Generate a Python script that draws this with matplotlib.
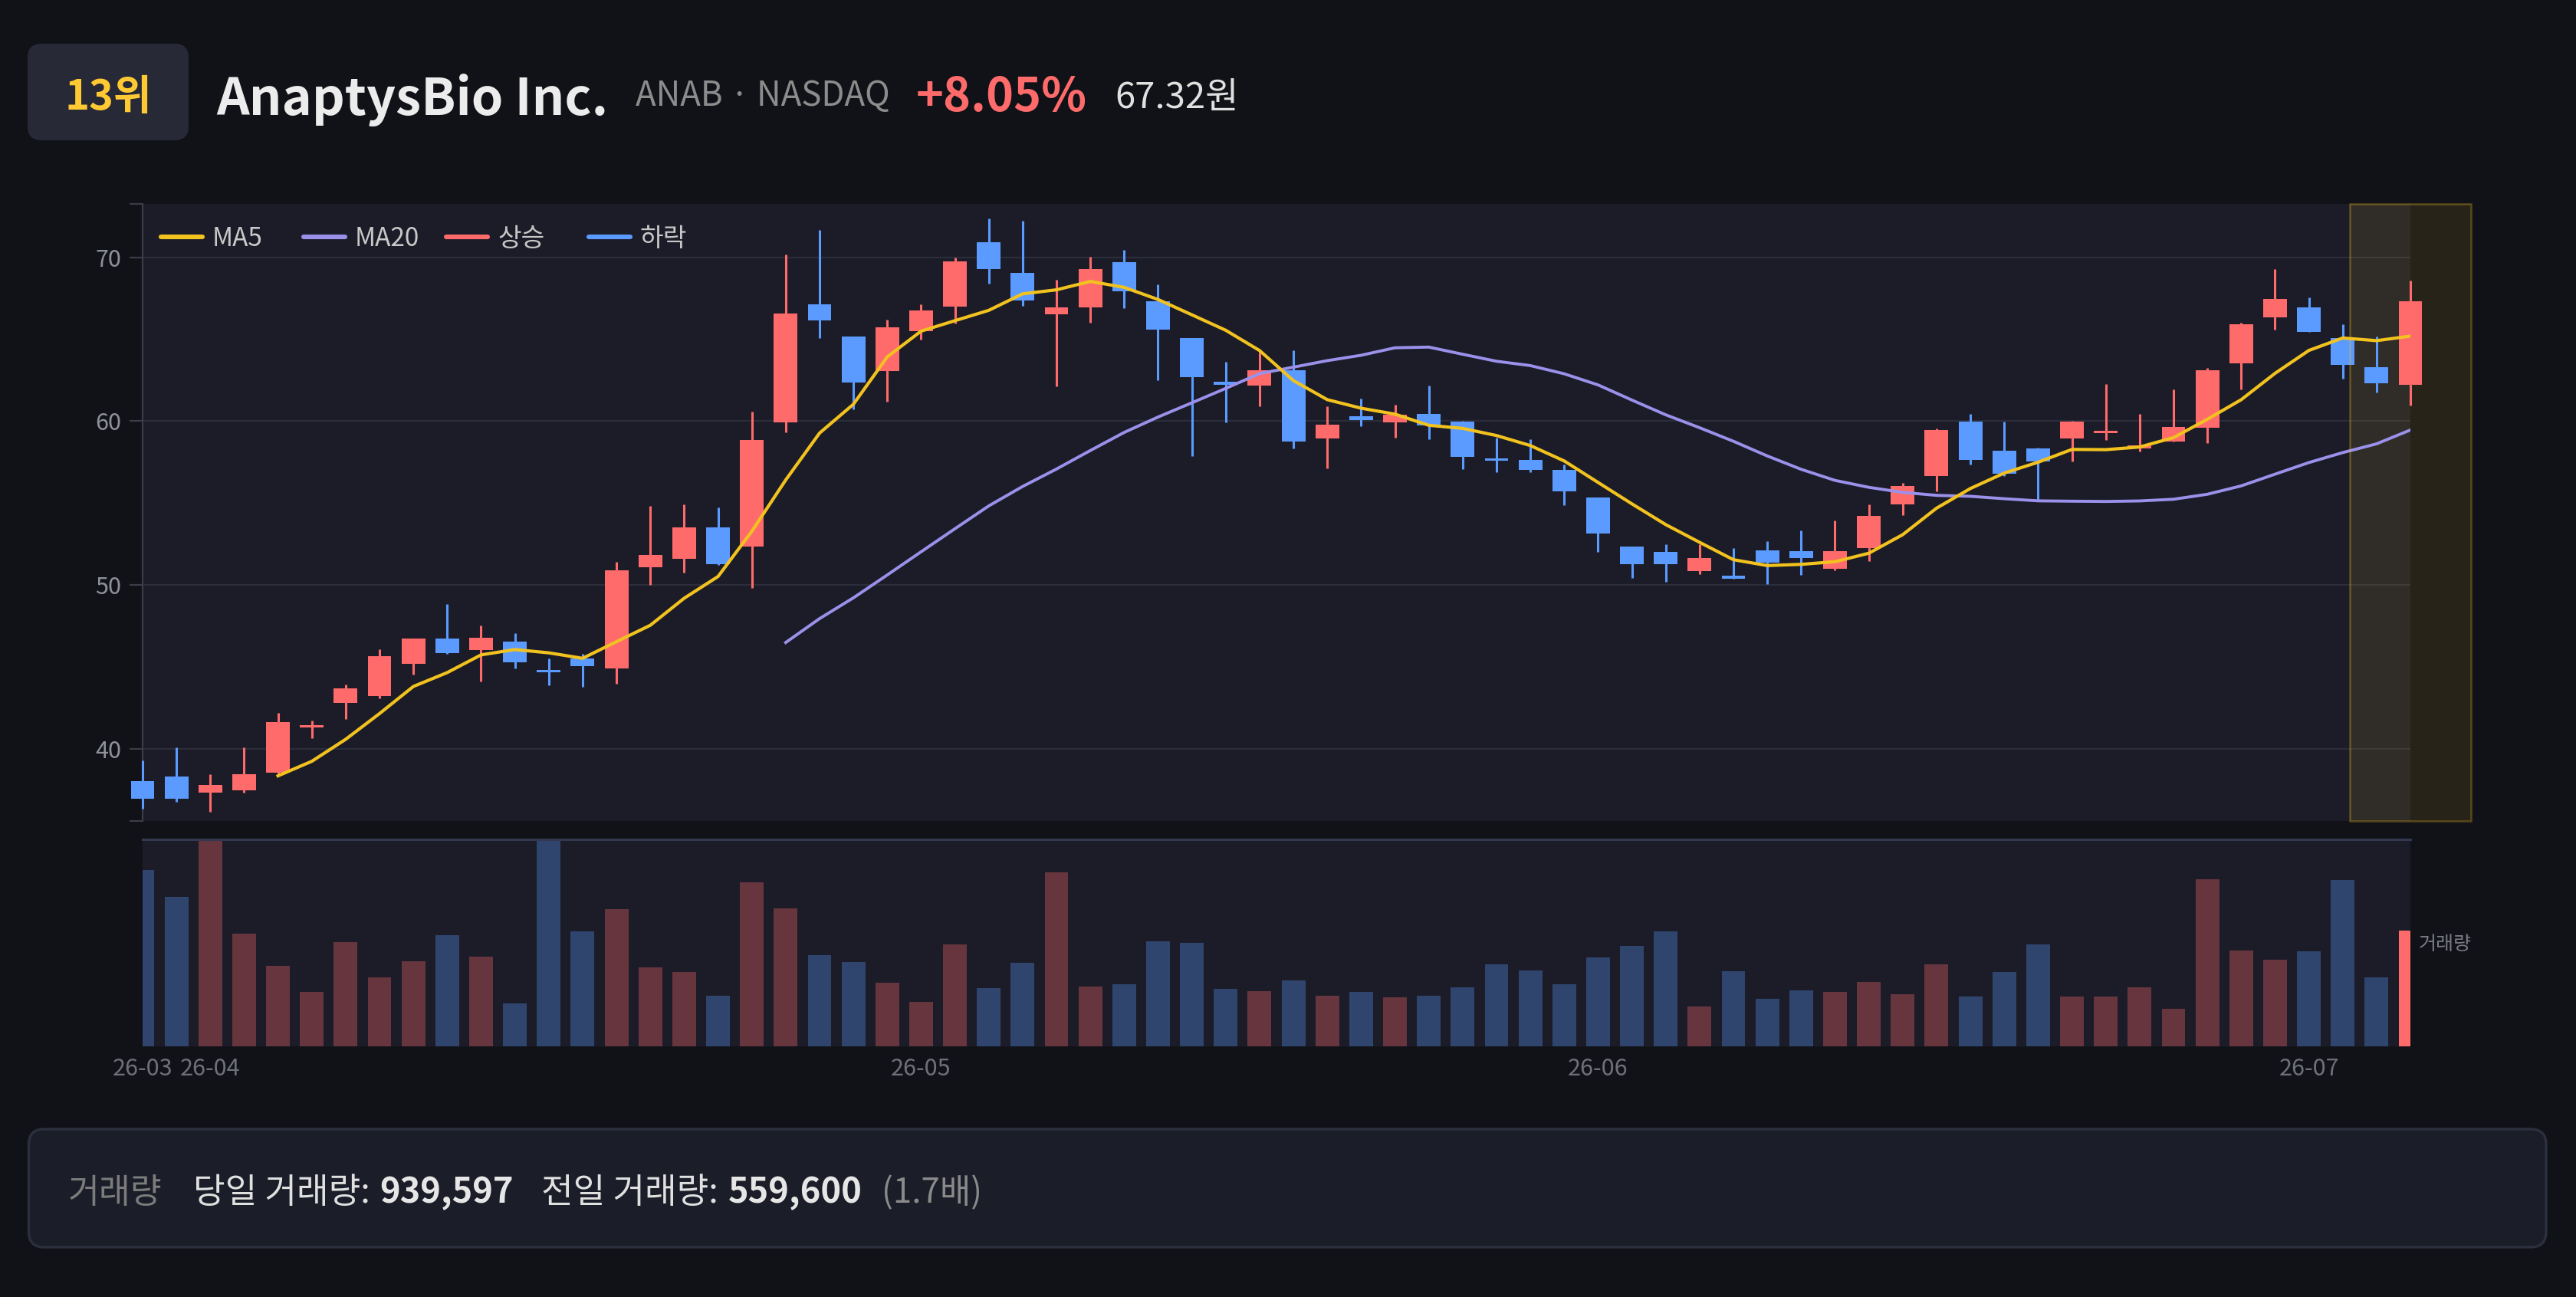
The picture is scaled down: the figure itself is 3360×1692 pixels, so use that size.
import numpy as np
import pandas as pd
import matplotlib
matplotlib.use("Agg")
import matplotlib.pyplot as plt
from matplotlib.patches import FancyBboxPatch, Rectangle

plt.rcParams['font.family'] = ['Noto Sans CJK KR', 'DejaVu Sans']

# --- data ---
opens = [38.03, 38.30, 37.29, 37.47, 38.54, 41.29, 42.78, 43.19, 45.20, 46.70,
         46.01, 46.52, 44.76, 45.52, 44.91, 51.10, 51.57, 53.53, 52.35, 59.91,
         67.14, 65.15, 63.07, 65.52, 66.99, 70.93, 69.05, 66.55, 66.94, 69.73,
         67.31, 65.08, 62.41, 62.19, 63.12, 58.96, 60.28, 59.94, 60.45, 59.96,
         57.69, 57.61, 57.03, 55.36, 52.33, 52.01, 50.83, 50.54, 52.13, 52.08,
         51.00, 52.25, 54.90, 56.66, 59.96, 58.18, 58.35, 58.96, 59.28, 58.35,
         58.76, 59.62, 63.51, 66.33, 66.94, 65.06, 63.32, 62.24]
highs = [39.28, 40.06, 38.42, 40.09, 42.17, 41.73, 43.93, 46.08, 46.70, 48.83,
         47.53, 47.06, 45.52, 45.81, 51.40, 54.82, 54.90, 54.72, 60.58, 70.20,
         71.66, 65.15, 66.21, 67.14, 70.00, 72.37, 72.23, 68.65, 70.05, 70.47,
         68.36, 65.08, 63.64, 64.25, 64.35, 60.92, 61.38, 61.02, 62.17, 60.00,
         58.98, 58.91, 57.34, 55.36, 52.33, 52.50, 52.50, 52.25, 52.69, 53.33,
         53.92, 54.94, 56.22, 59.55, 60.45, 59.96, 58.40, 60.00, 62.29, 60.45,
         61.92, 63.27, 66.03, 69.27, 67.58, 65.91, 65.18, 68.58]
lows = [36.34, 36.76, 36.14, 37.32, 38.37, 40.62, 41.82, 43.05, 44.54, 45.77,
        44.08, 44.91, 43.88, 43.78, 43.98, 50.00, 50.73, 51.22, 49.80, 59.30,
        65.06, 60.70, 61.21, 64.98, 65.96, 68.41, 67.04, 62.12, 66.01, 66.92,
        62.51, 57.86, 59.94, 60.92, 58.32, 57.12, 59.69, 58.98, 58.89, 57.07,
        56.90, 56.90, 54.85, 52.01, 50.44, 50.17, 50.66, 50.39, 50.05, 50.59,
        50.91, 51.44, 54.28, 55.70, 57.37, 56.66, 55.19, 57.54, 58.86, 58.13,
        58.76, 58.64, 61.95, 65.59, 65.45, 62.58, 61.77, 60.94]
closes = [36.93, 36.95, 37.78, 38.42, 41.60, 41.38, 43.66, 45.64, 46.70, 45.84,
          46.79, 45.28, 44.64, 45.03, 50.91, 51.81, 53.53, 51.27, 58.86, 66.57,
          66.13, 62.34, 65.72, 66.74, 69.76, 69.29, 67.38, 66.94, 69.31, 67.94,
          65.59, 62.70, 62.22, 63.12, 58.76, 59.77, 60.09, 60.40, 59.72, 57.81,
          57.59, 57.03, 55.70, 53.16, 51.27, 51.25, 51.62, 50.39, 51.37, 51.64,
          52.06, 54.21, 56.05, 59.47, 57.64, 56.78, 57.52, 59.96, 59.40, 58.45,
          59.64, 63.12, 65.94, 67.45, 65.45, 63.44, 62.31, 67.32]
volumes = [1435000, 1216000, 1684000, 916000, 658000, 443000, 849000, 559000, 690000, 903000,
           727000, 349000, 1680000, 936000, 1116000, 642000, 605000, 409000, 1335000, 1120000,
           743000, 689000, 517000, 360000, 827000, 472000, 680000, 1415000, 488000, 504000,
           852000, 842000, 468000, 446000, 534000, 414000, 445000, 397000, 409000, 482000,
           665000, 620000, 504000, 724000, 818000, 933000, 325000, 611000, 384000, 453000,
           445000, 525000, 424000, 667000, 404000, 603000, 827000, 408000, 406000, 480000,
           305000, 1359000, 780000, 706000, 771000, 1356000, 559600, 939597]
tick_pos = [0, 2, 23, 43, 64]
tick_labels = ['26-03', '26-04', '26-05', '26-06', '26-07']

rank_text = '13위'
name_text = 'AnaptysBio Inc.'
ticker_text = 'ANAB · NASDAQ'
change_text = '+8.05%'
price_text = '67.32원'

# --- style ---
W, H, DPI = 3360, 1692, 200
FIG_BG = '#111218'
PANEL = '#1b1c28'
RED = '#ff6b6b'
BLUE = '#5b9bff'
YEL = '#f2c21f'
LAV = '#9b91eb'

x = np.arange(len(closes))
o = np.array(opens); c = np.array(closes)
hi = np.array(highs); lo = np.array(lows)
up = c >= o
cols = np.where(up, RED, BLUE)
ma5 = pd.Series(closes).rolling(5).mean()
ma20 = pd.Series(closes).rolling(20).mean()

fig = plt.figure(figsize=(W / DPI, H / DPI), dpi=DPI, facecolor=FIG_BG)

def px_rect(l, t, r, b):
    return [l / W, 1 - b / H, (r - l) / W, (b - t) / H]

YLO, YHI = 35.58, 73.27
XR = len(closes) - 1

# price panel
ax = fig.add_axes(px_rect(186, 266, 3144, 1071), facecolor=PANEL)
ax.vlines(x, lo, hi, colors=cols, lw=1.1, zorder=3, clip_on=False)
ax.bar(x, np.maximum(np.abs(c - o), 0.15), bottom=np.minimum(o, c), width=0.7,
       color=cols, zorder=4, clip_on=False)
ax.plot(x, ma20, color=LAV, lw=1.4, zorder=5)
ax.plot(x, ma5, color=YEL, lw=1.5, zorder=6)
ax.add_patch(Rectangle((XR - 1.8, YLO), 3.6, YHI - YLO, facecolor=YEL, alpha=0.1,
                       edgecolor='none', zorder=1, clip_on=False))
ax.add_patch(Rectangle((XR - 1.8, YLO), 3.6, YHI - YLO, facecolor='none',
                       edgecolor=(0.95, 0.76, 0.12, 0.3), lw=0.9, zorder=7, clip_on=False))
ax.set_xlim(0, XR)
ax.set_ylim(YLO, YHI)
ax.set_xticks([])
ax.set_yticks([40, 50, 60, 70])
ax.set_yticks([YLO, YHI], minor=True)
ax.grid(axis='y', color='#2b2d3a', lw=0.8)
ax.set_axisbelow(True)
for s in ['top', 'right', 'bottom']:
    ax.spines[s].set_visible(False)
ax.spines['left'].set_color('#3a3c47')
ax.spines['left'].set_linewidth(0.8)
ax.tick_params(axis='y', which='both', length=6, width=0.8, color='#3a3c47',
               labelcolor='#8e909a', labelsize=11, pad=4)

# volume panel
ax2 = fig.add_axes(px_rect(186, 1095, 3144, 1365), facecolor=PANEL)
vcols = [matplotlib.colors.to_rgba(cc, 0.33) for cc in cols]
vcols[-1] = matplotlib.colors.to_rgba(cols[-1], 1.0)
ax2.bar(x, volumes, width=0.7, color=vcols, zorder=2)
ax2.set_xlim(0, XR)
ax2.set_ylim(0, max(volumes))
ax2.set_yticks([])
ax2.set_xticks(tick_pos)
ax2.set_xticklabels(tick_labels)
ax2.tick_params(axis='x', length=0, pad=5, labelsize=11, labelcolor='#6e7079')
for s in ['left', 'right', 'bottom']:
    ax2.spines[s].set_visible(False)
ax2.spines['top'].set_color('#343750')
ax2.spines['top'].set_linewidth(1.1)
ax2.annotate('거래량', xy=(1, volumes[-1]), xycoords=('axes fraction', 'data'),
             xytext=(4, -1.5), textcoords='offset points', ha='left', va='top',
             fontsize=9, color='#7a7c85', annotation_clip=False)

# overlay in pixel coordinates for header, legend and footer
ov = fig.add_axes([0, 0, 1, 1], zorder=10)
ov.set_xlim(0, W); ov.set_ylim(H, 0)
ov.axis('off')
ov.patch.set_visible(False)
renderer = fig.canvas.get_renderer()

ov.add_patch(FancyBboxPatch((36, 57), 210, 126, boxstyle='round,pad=0,rounding_size=18',
                            fc='#272a36', ec='none'))
ov.text(141, 143, rank_text, ha='center', va='baseline', fontsize=19.5,
        fontweight='bold', color='#ffc933')

def run(items, xpos):
    for s, gap, base, kw in items:
        xpos += gap
        t = ov.text(xpos, base, s, ha='left', va='baseline', **kw)
        xpos = t.get_window_extent(renderer).x1

run([(name_text, 0, 150, dict(fontsize=24, fontweight='bold', color='#ececec')),
     (ticker_text, 36, 138, dict(fontsize=15.8, color='#8c8c8c')),
     (change_text, 34, 145, dict(fontsize=22, fontweight='bold', color=RED)),
     (price_text, 36, 141, dict(fontsize=17, fontweight='medium', color='#e0e0e0'))], 282)

# legend
leg = [('MA5', YEL), ('MA20', LAV), ('상승', RED), ('하락', BLUE)]
for i, (lab, colr) in enumerate(leg):
    x0 = 207 + 186 * i
    ov.plot([x0 + 3, x0 + 57], [308.6, 308.6], color=colr, lw=2.2, solid_capstyle='round')
    ov.text(x0 + 70, 321, lab, ha='left', va='baseline', fontsize=12, color='#c8c8c8')

# footer box
ov.add_patch(FancyBboxPatch((37.5, 1473), 3283.5, 154, boxstyle='round,pad=0,rounding_size=20',
                            fc='#1b1d28', ec='#2c2f3d', lw=1.2))
ratio = volumes[-1] / volumes[-2]
run([('거래량', 0, 1569, dict(fontsize=16, color='#7c7c7c')),
     ('당일 거래량:', 40, 1569, dict(fontsize=16.3, fontweight='medium', color='#e0e0e0')),
     (f'{volumes[-1]:,}', 13, 1569, dict(fontsize=16.3, fontweight='bold', color='#e6e6e6')),
     ('전일 거래량:', 36, 1569, dict(fontsize=16.3, fontweight='medium', color='#e0e0e0')),
     (f'{volumes[-2]:,}', 13, 1569, dict(fontsize=16.3, fontweight='bold', color='#e6e6e6')),
     (f'({ratio:.1f}배)', 26, 1569, dict(fontsize=15.8, color='#8a8a8a'))], 89)

fig.savefig('out.png', dpi=DPI, facecolor=FIG_BG)
